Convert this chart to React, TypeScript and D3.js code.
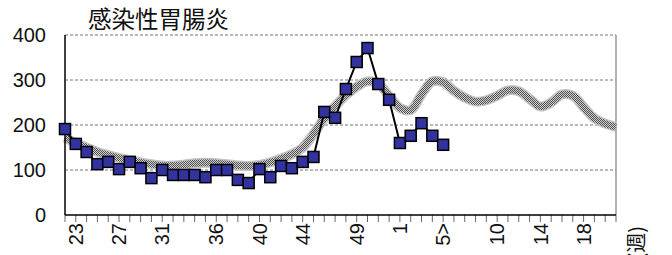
import React from 'react';
import * as d3 from "d3";

// weeks 22..52 then 1..21
const weeks = [
  "22","23","24","25","26","27","28","29","30","31","32","33","34","35","36","37","38","39","40","41",
  "42","43","44","45","46","47","48","49","50","51","52","1","2","3","4","5","6","7","8","9",
  "10","11","12","13","14","15","16","17","18","19","20","21"
];
const tickLabels: Record<string, string> = {
  "23": "23", "27": "27", "31": "31", "36": "36", "40": "40", "44": "44",
  "49": "49", "1": "1", "5": "5>", "10": "10", "14": "14", "18": "18"
};
// this season (weeks 22..5)
const current = [
  191, 158, 140, 113, 118, 102, 118, 104, 82, 100, 89, 89, 89, 84, 100, 100, 78, 71, 102, 84,
  109, 104, 118, 129, 229, 216, 280, 340, 371, 291, 256, 160, 176, 204, 176, 156
];
// past years average
const average = [
  172, 160, 150, 140, 133, 127, 122, 117, 113, 110, 110, 112, 115, 116, 115, 113, 110, 109, 111, 117,
  125, 135, 150, 180, 215, 242, 266, 285, 297, 292, 264, 238, 233, 268, 297, 295, 276, 261, 252, 255,
  265, 277, 275, 258, 241, 250, 268, 265, 240, 215, 203, 196
];
const yTicks = [0, 100, 200, 300, 400];

const App = () => {
  const width = 672;
  const height = 255;
  const left = 65, right = 616, top = 35, bottom = 215;
  const font = "'Liberation Sans', Arial, sans-serif";

  const x = d3.scalePoint<string>().domain(weeks).range([left, right]);
  const y = d3.scaleLinear().domain([0, 400]).range([bottom, top]);

  const avgLine = d3.line<number>()
    .x((d, i) => x(weeks[i]) as number)
    .y(d => y(d))
    .curve(d3.curveCatmullRom);
  const curLine = d3.line<number>()
    .x((d, i) => x(weeks[i]) as number)
    .y(d => y(d));

  const sq = 11;

  return (
    <div style={{ position: "absolute", left: 0, top: 0 }}>
      <svg width={width} height={height} style={{ display: "block", background: "#fff" }}>
        <defs>
          <pattern id="chk" width="2" height="2" patternUnits="userSpaceOnUse">
            <rect width="2" height="2" fill="#d0d0d0" />
            <rect width="1" height="1" fill="#505050" />
            <rect x="1" y="1" width="1" height="1" fill="#505050" />
          </pattern>
        </defs>

        <text x={88} y={28} fontSize={23.5} fontFamily="'Noto Sans CJK JP', sans-serif" fill="#111">
          感染性胃腸炎
        </text>

        {yTicks.map(t => (
          <g key={t}>
            {t > 0 && (
              <line x1={left} x2={right} y1={y(t)} y2={y(t)} stroke="#777" strokeWidth={1} strokeDasharray="3,2" />
            )}
            <text x={46} y={y(t)} dy="0.36em" textAnchor="end" fontSize={20} fontFamily={font} fill="#111">{t}</text>
          </g>
        ))}

        <line x1={right} x2={right} y1={top} y2={bottom} stroke="#999" strokeWidth={1.5} />

        {weeks.map(w => (
          <line key={w} x1={x(w)} x2={x(w)} y1={bottom} y2={bottom + 7} stroke="#666" strokeWidth={1} />
        ))}
        {weeks.filter(w => tickLabels[w]).map(w => (
          <text key={w} transform={`translate(${x(w)},${223}) rotate(-90)`} textAnchor="end" dy="0.36em"
            fontSize={20} fontFamily={font} fill="#111">{tickLabels[w]}</text>
        ))}
        <text transform={`translate(${637},${226}) rotate(-90)`} textAnchor="end" dy="0.36em"
          fontSize={20} fontFamily="'Noto Sans CJK JP', sans-serif" fill="#111">(週)</text>

        <path d={avgLine(average) || ""} fill="none" stroke="#c4c4c4" strokeWidth={10} />
        <path d={avgLine(average) || ""} fill="none" stroke="url(#chk)" strokeWidth={7} />

        <line x1={left} x2={left} y1={top} y2={bottom} stroke="#000" strokeWidth={1.5} />
        <line x1={left} x2={right} y1={bottom} y2={bottom} stroke="#000" strokeWidth={1.5} />

        <path d={curLine(current) || ""} fill="none" stroke="#000" strokeWidth={2} />
        {current.map((v, i) => (
          <rect key={i} x={(x(weeks[i]) as number) - sq / 2} y={y(v) - sq / 2} width={sq} height={sq}
            fill="#3333a0" stroke="#000" strokeWidth={1.5} />
        ))}
      </svg>
    </div>
  );
};

export default App;
